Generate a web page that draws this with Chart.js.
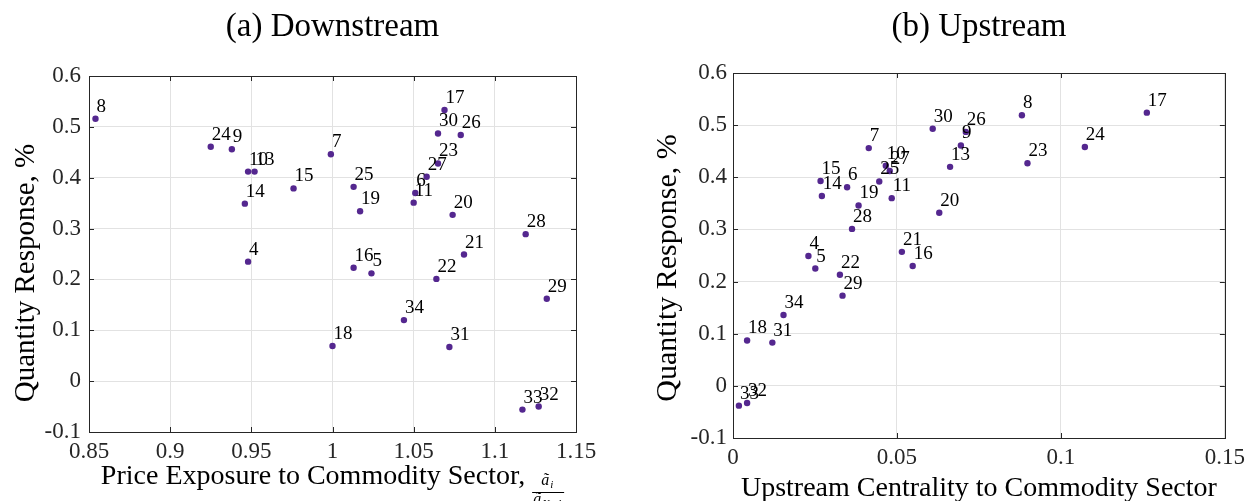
<!DOCTYPE html>
<html>
<head>
<meta charset="utf-8">
<script src="https://cdn.jsdelivr.net/npm/chart.js@4.4.1/dist/chart.umd.min.js"></script>
<style>
  body { margin: 0; background: #fff; }
  #wrap { position: relative; width: 1251px; height: 501px; overflow: hidden; }
  canvas { position: absolute; top: 0; }
</style>
</head>
<body>
<div id="wrap">
  <canvas id="down" width="620" height="501" style="left:0"></canvas>
  <canvas id="up" width="631" height="501" style="left:620px"></canvas>
</div>
<script>
// sector ids (same order in every array below)
var sectors = [4, 5, 6, 7, 8, 9, 10, 11, 13, 14, 15, 16, 17, 18, 19, 20, 21, 22, 23, 24, 25, 26, 27, 28, 29, 30, 31, 32, 33, 34];

// (a) downstream
var priceExposure = [0.948, 1.024, 1.051, 0.999, 0.854, 0.938, 0.948, 1.050, 0.952, 0.946, 0.976, 1.013, 1.069, 1.000, 1.017,
                     1.074, 1.081, 1.064, 1.065, 0.925, 1.013, 1.079, 1.058, 1.119, 1.132, 1.065, 1.072, 1.127, 1.117, 1.044];
var qtyDown = [0.235, 0.212, 0.370, 0.446, 0.516, 0.456, 0.412, 0.351, 0.412, 0.349, 0.379, 0.223, 0.533, 0.069, 0.334,
               0.327, 0.249, 0.201, 0.428, 0.461, 0.382, 0.484, 0.402, 0.289, 0.162, 0.487, 0.067, -0.050, -0.056, 0.120];

// (b) upstream
var upstreamCentrality = [0.0230, 0.0251, 0.0348, 0.0414, 0.0881, 0.0695, 0.0466, 0.0484, 0.0662, 0.0271, 0.0267, 0.0548, 0.1262, 0.0043, 0.0383,
                          0.0629, 0.0515, 0.0326, 0.0898, 0.1073, 0.0446, 0.0710, 0.0478, 0.0363, 0.0334, 0.0609, 0.0120, 0.0043, 0.0018, 0.0154];
var qtyUp = [0.249, 0.225, 0.381, 0.456, 0.519, 0.461, 0.422, 0.360, 0.420, 0.364, 0.393, 0.230, 0.524, 0.087, 0.346,
             0.332, 0.257, 0.213, 0.427, 0.458, 0.392, 0.487, 0.412, 0.301, 0.173, 0.493, 0.083, -0.033, -0.038, 0.136];

var xTicksDown = [0.85, 0.9, 0.95, 1, 1.05, 1.1, 1.15];
var xTicksUp = [0, 0.05, 0.1, 0.15];
var yTicks = [-0.1, 0, 0.1, 0.2, 0.3, 0.4, 0.5, 0.6];

var SERIF = '"Liberation Serif", "Times New Roman", serif';
var purple = '#54278f';
var axisCol = '#262626';

function fmt(v) { return String(+(+v).toFixed(3)); }

// frame, inward ticks, point labels, titles
var decor = {
  id: 'decor',
  afterDatasetsDraw: function(chart) {
    var ctx = chart.ctx;
    var meta = chart.getDatasetMeta(0);
    ctx.save();
    ctx.fillStyle = '#000';
    ctx.font = '19px ' + SERIF;
    ctx.textAlign = 'left';
    ctx.textBaseline = 'alphabetic';
    meta.data.forEach(function(pt, i) {
      ctx.fillText(String(sectors[i]), pt.x + 1, pt.y - 7);
    });
    ctx.restore();
  },
  afterDraw: function(chart) {
    var ctx = chart.ctx, a = chart.chartArea, o = chart.options.plugins.decor;
    var sx = chart.scales.x, sy = chart.scales.y;
    ctx.save();
    ctx.strokeStyle = axisCol;
    ctx.lineWidth = 1;
    ctx.strokeRect(Math.round(a.left) + 0.5, Math.round(a.top) + 0.5, Math.round(a.right - a.left), Math.round(a.bottom - a.top));
    ctx.beginPath();
    sx.ticks.forEach(function(t) {
      var p = Math.round(sx.getPixelForValue(t.value)) + 0.5;
      ctx.moveTo(p, a.bottom); ctx.lineTo(p, a.bottom - 5);
      ctx.moveTo(p, a.top); ctx.lineTo(p, a.top + 5);
    });
    sy.ticks.forEach(function(t) {
      var p = Math.round(sy.getPixelForValue(t.value)) + 0.5;
      ctx.moveTo(a.left, p); ctx.lineTo(a.left + 5, p);
      ctx.moveTo(a.right, p); ctx.lineTo(a.right - 5, p);
    });
    ctx.stroke();

    // panel title
    ctx.fillStyle = '#000';
    ctx.textAlign = 'center';
    ctx.textBaseline = 'middle';
    ctx.font = '33px ' + SERIF;
    ctx.fillText(o.title, (a.left + a.right) / 2, 27);

    // y title
    ctx.font = o.yTitleSize + 'px ' + SERIF;
    ctx.save();
    ctx.translate(o.yTitleX, o.yTitleY);
    ctx.rotate(-Math.PI / 2);
    ctx.fillText('Quantity Response, %', 0, 0);
    ctx.restore();

    // x title
    ctx.font = '28px ' + SERIF;
    ctx.textBaseline = 'alphabetic';
    var cx = (a.left + a.right) / 2;
    if (!o.fraction) {
      ctx.fillText(o.xTitle, cx, o.xTitleY);
    } else {
      ctx.textAlign = 'left';
      var w1 = ctx.measureText(o.xTitle + ' ').width;
      ctx.font = 'italic 16px ' + SERIF;
      var wa = ctx.measureText('ã').width;
      var wNum = wa + 6;
      var wDen = wa + 22;
      var wf = Math.max(wNum, wDen) + 2;
      var x0 = cx - (w1 + wf) / 2;
      ctx.font = '28px ' + SERIF;
      ctx.fillText(o.xTitle, x0, o.xTitleY);
      var fx = x0 + w1, fc = fx + wf / 2;
      // numerator
      ctx.font = 'italic 16px ' + SERIF;
      ctx.fillText('ã', fc - wNum / 2, o.xTitleY + 1);
      ctx.font = 'italic 11px ' + SERIF;
      ctx.fillText('i', fc - wNum / 2 + wa + 1, o.xTitleY + 4);
      // bar
      ctx.beginPath();
      ctx.moveTo(fx, o.xTitleY + 8.5); ctx.lineTo(fx + wf, o.xTitleY + 8.5);
      ctx.strokeStyle = '#000';
      ctx.stroke();
      // denominator
      ctx.font = 'italic 16px ' + SERIF;
      ctx.fillText('ã', fc - wDen / 2, o.xTitleY + 20);
      ctx.font = 'italic 11px ' + SERIF;
      ctx.fillText('N+1', fc - wDen / 2 + wa + 1, o.xTitleY + 23);
    }
    ctx.restore();
  }
};

function makeChart(id, xs, ys, xTicks, cfg) {
  var pts = xs.map(function(x, i) { return { x: x, y: ys[i] }; });
  var tickFont = { family: SERIF, size: 23 };
  return new Chart(document.getElementById(id), {
    type: 'scatter',
    data: {
      datasets: [{
        data: pts,
        pointRadius: 3.2,
        pointBackgroundColor: purple,
        pointBorderWidth: 0,
        borderColor: purple
      }]
    },
    options: {
      responsive: false,
      animation: false,
      layout: { padding: { top: cfg.top, right: cfg.right, left: 0, bottom: 0 } },
      plugins: {
        legend: { display: false },
        tooltip: { enabled: false },
        decor: cfg
      },
      scales: {
        x: {
          type: 'linear',
          min: xTicks[0],
          max: xTicks[xTicks.length - 1],
          afterBuildTicks: function(s) { s.ticks = xTicks.map(function(v) { return { value: v }; }); },
          afterFit: function(s) { s.height = cfg.xHeight; },
          grid: { color: '#e2e2e2', drawTicks: false },
          border: { display: false },
          ticks: { padding: 6, font: tickFont, color: axisCol, maxRotation: 0, autoSkip: false, callback: fmt }
        },
        y: {
          type: 'linear',
          min: yTicks[0],
          max: yTicks[yTicks.length - 1],
          afterBuildTicks: function(s) { s.ticks = yTicks.map(function(v) { return { value: v }; }); },
          afterFit: function(s) { s.width = cfg.yWidth; },
          grid: { color: '#e2e2e2', drawTicks: false },
          border: { display: false },
          ticks: { padding: cfg.yPad, font: tickFont, color: axisCol, autoSkip: false, callback: fmt }
        }
      }
    },
    plugins: [decor]
  });
}

makeChart('down', priceExposure, qtyDown, xTicksDown, {
  title: '(a) Downstream',
  xTitle: 'Price Exposure to Commodity Sector,',
  fraction: true,
  xTitleY: 484,
  yTitleX: 26, yTitleY: 273, yTitleSize: 29,
  top: 76, right: 44, xHeight: 69, yWidth: 89, yPad: 8
});

makeChart('up', upstreamCentrality, qtyUp, xTicksUp, {
  title: '(b) Upstream',
  xTitle: 'Upstream Centrality to Commodity Sector',
  fraction: false,
  xTitleY: 496,
  yTitleX: 48, yTitleY: 268, yTitleSize: 30,
  top: 73, right: 23, xHeight: 63, yWidth: 113, yPad: 6
});
</script>
</body>
</html>
